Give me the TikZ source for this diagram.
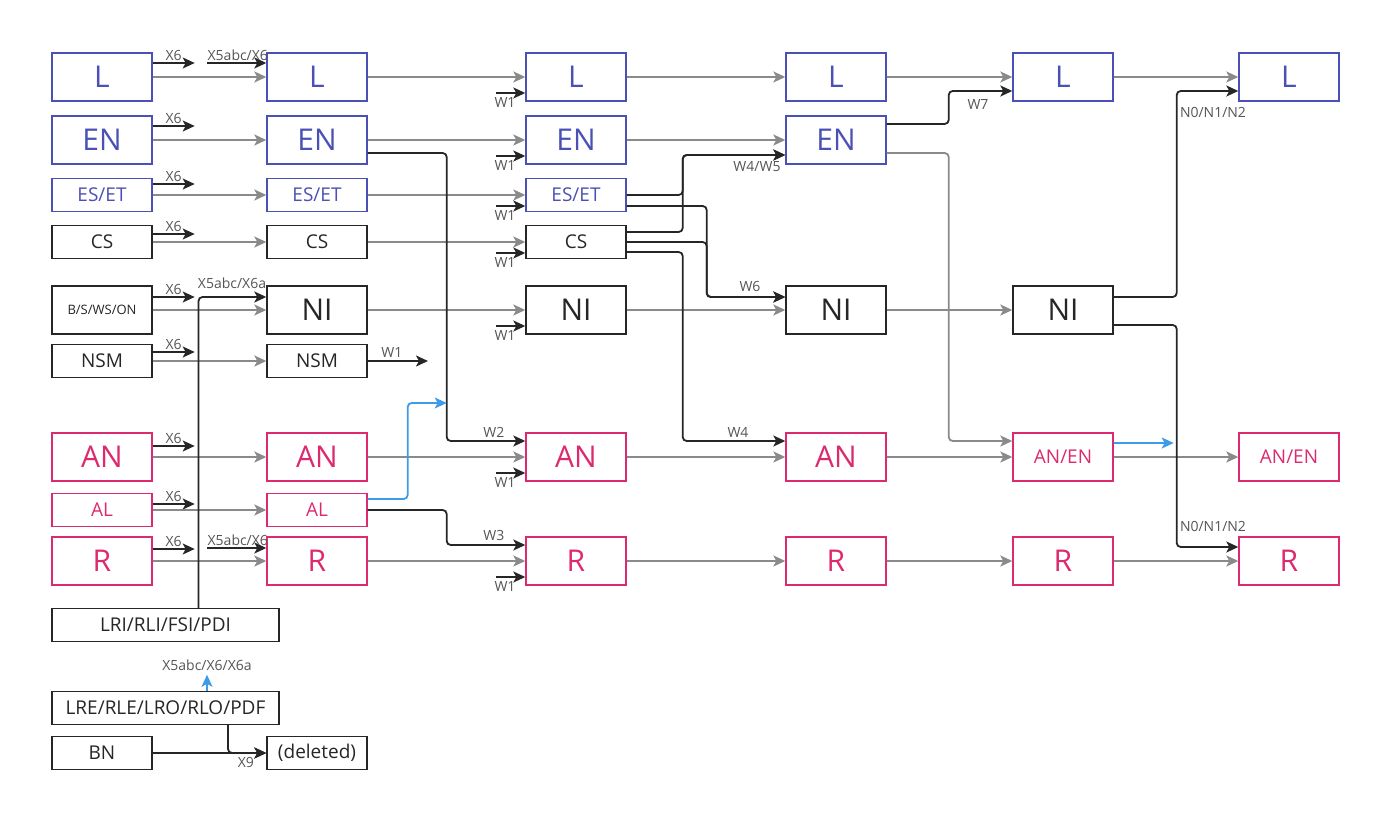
\documentclass[tikz,border=0pt]{standalone}
\usepackage{fontspec}
\setmainfont{Open Sans}
\usetikzlibrary{arrows.meta}
\definecolor{myblue}{HTML}{4A50B5}
\definecolor{mypink}{HTML}{DD2A6E}
\definecolor{mydark}{HTML}{262626}
\definecolor{mygray}{HTML}{8A8A8A}
\definecolor{labgray}{HTML}{555555}
\definecolor{skyb}{HTML}{3D9BE9}
\begin{document}
\begin{tikzpicture}[x=1pt,y=-1pt,
 box/.style={draw, line width=1.4pt, minimum width=100pt, minimum height=48pt, inner sep=0pt, font=\fontsize{30}{32}\selectfont},
 sbox/.style={box, minimum height=33pt, font=\fontsize{19}{21}\selectfont},
 bl/.style={draw=myblue,text=myblue}, pk/.style={draw=mypink,text=mypink}, bk/.style={draw=mydark,text=mydark},
 garr/.style={draw=mygray, line width=1.8pt, -{Stealth[length=12pt,width=11pt,inset=3pt]}},
 barr/.style={draw=mydark, line width=1.8pt, rounded corners=4pt, -{Stealth[length=12pt,width=11pt,inset=3pt]}},
 gline/.style={garr, rounded corners=4pt},
 blarr/.style={barr, draw=skyb},
 lab/.style={font=\fontsize{14}{15}\selectfont, text=labgray, inner sep=1pt}]
\useasboundingbox (0,0) rectangle (1400,813);
% column 0
\node[box,bl] (L0) at (102,77) {L};
\node[box,bl] (EN0) at (102,140) {EN};
\node[sbox,bl] (ES0) at (102,195) {ES/ET};
\node[sbox,bk] (CS0) at (102,242) {CS};
\node[box,bk,font=\fontsize{13}{14}\selectfont] (NI0) at (102,310) {B/S/WS/ON};
\node[sbox,bk] (NSM0) at (102,361) {NSM};
\node[box,pk] (AN0) at (102,457) {AN};
\node[sbox,pk] (AL0) at (102,510) {AL};
\node[box,pk] (R0) at (102,561) {R};
\node[sbox,bk,minimum width=227pt] (LRI) at (165.5,625) {LRI/RLI/FSI/PDI};
\node[sbox,bk,minimum width=227pt] (LRE) at (165.5,708) {LRE/RLE/LRO/RLO/PDF};
\node[sbox,bk] (BN) at (102,753) {BN};
% column 1
\node[box,bl] (L1) at (317,77) {L};
\node[box,bl] (EN1) at (317,140) {EN};
\node[sbox,bl] (ES1) at (317,195) {ES/ET};
\node[sbox,bk] (CS1) at (317,242) {CS};
\node[box,bk] (NI1) at (317,310) {NI};
\node[sbox,bk] (NSM1) at (317,361) {NSM};
\node[box,pk] (AN1) at (317,457) {AN};
\node[sbox,pk] (AL1) at (317,510) {AL};
\node[box,pk] (R1) at (317,561) {R};
\node[sbox,bk] (DEL) at (317,753) {(deleted)};
% column 2
\node[box,bl] (L2) at (576,77) {L};
\node[box,bl] (EN2) at (576,140) {EN};
\node[sbox,bl] (ES2) at (576,195) {ES/ET};
\node[sbox,bk] (CS2) at (576,242) {CS};
\node[box,bk] (NI2) at (576,310) {NI};
\node[box,pk] (AN2) at (576,457) {AN};
\node[box,pk] (R2) at (576,561) {R};
% column 3
\node[box,bl] (L3) at (836,77) {L};
\node[box,bl] (EN3) at (836,140) {EN};
\node[box,bk] (NI3) at (836,310) {NI};
\node[box,pk] (AN3) at (836,457) {AN};
\node[box,pk] (R3) at (836,561) {R};
% column 4
\node[box,bl] (L4) at (1063,77) {L};
\node[box,bk] (NI4) at (1063,310) {NI};
\node[box,pk,font=\fontsize{19}{21}\selectfont] (AE4) at (1063,457) {AN/EN};
\node[box,pk] (R4) at (1063,561) {R};
% column 5
\node[box,bl] (L5) at (1289,77) {L};
\node[box,pk,font=\fontsize{19}{21}\selectfont] (AE5) at (1289,457) {AN/EN};
\node[box,pk] (R5) at (1289,561) {R};
% gray
\foreach \r in {L,EN,ES,CS,NI,NSM,AN,AL,R} \draw[garr] (\r0) -- (\r1);
\foreach \r in {L,EN,ES,CS,NI,AN,R} \draw[garr] (\r1) -- (\r2);
\foreach \r in {L,EN,NI,AN,R} \draw[garr] (\r2) -- (\r3);
\foreach \r in {L,NI,R} \draw[garr] (\r3) -- (\r4);
\draw[garr] (AN3) -- (AE4);
\draw[garr] (L4) -- (L5);
\draw[garr] (AE4) -- (AE5);
\draw[garr] (R4) -- (R5);
% X6 stubs
\foreach \r/\s in {L0/14,EN0/14,ES0/11,CS0/8,NI0/13,NSM0/9,AN0/11,AL0/6,R0/12}
  \draw[barr] ([yshift=\s]\r.east) -- ++(42,0) node[lab,midway,above]{X6};
% X5abc/X6
\draw[barr] ([xshift=-59,yshift=14]L1.west) -- ([yshift=14]L1.west) node[lab,midway,above,xshift=1]{X5abc/X6};
\draw[barr] ([xshift=-59,yshift=13]R1.west) -- ([yshift=13]R1.west) node[lab,midway,above,xshift=1]{X5abc/X6};
\draw[barr] ([xshift=33]LRI.north) |- ([yshift=13]NI1.west);
\node[lab] (x6a) at (232,283) {X5abc/X6a};
% W1 stubs
\foreach \r in {L2,EN2,NI2,AN2,R2}
  \draw[barr] ([xshift=-29,yshift=-16]\r.west) -- ([yshift=-16]\r.west) node[lab,pos=0.3,below=3pt]{W1};
\foreach \r in {ES2,CS2}
  \draw[barr] ([xshift=-29,yshift=-11]\r.west) -- ([yshift=-11]\r.west) node[lab,pos=0.3,below=3pt]{W1};
\draw[barr] (NSM1) -- ++(111,0) node[lab,pos=0.4,above=2pt]{W1};
% W2, W3, blue AL
\draw[barr] ([yshift=-13]EN1.east) -- ++(79,0) |- ([yshift=16]AN2.west) node[lab,pos=0.8,above=2pt]{W2};
\draw[barr] (AL1.east) -- ++(79,0) |- ([yshift=16]R2.west) node[lab,pos=0.8,above=2pt]{W3};
\draw[blarr] ([yshift=11]AL1.east) -- ++(40,0) |- ++(39,-96);
% col2 -> col3 black
\draw[barr] (ES2.east) -- ++(56,0) |- ([yshift=-15]EN3.west);
\draw[barr] ([yshift=10]CS2.east) -- ++(56,0) |- ([yshift=-15]EN3.west);
\node[lab] (w45) at (757,167) {W4/W5};
\draw[barr] ([yshift=-11]ES2.east) -- ++(80,0) |- ([yshift=13]NI3.west);
\draw[barr] (CS2.east) -- ++(80,0) |- ([yshift=13]NI3.west);
\node[lab] (w6) at (750,286) {W6};
\draw[barr] ([yshift=-10]CS2.east) -- ++(56,0) |- ([yshift=16]AN3.west);
\node[lab] (w4) at (738,432) {W4};
% col3 -> col4
\draw[barr] ([yshift=16]EN3.east) -- ++(62,0) |- ([yshift=-14]L4.west);
\node[lab] (w7) at (978,105) {W7};
\draw[gline] ([yshift=-13]EN3.east) -- ++(62,0) |- ([yshift=16]AE4.west);
% col4 -> col5
\draw[barr] ([yshift=13]NI4.east) -- ++(63,0) |- ([yshift=-14]L5.west);
\node[lab] (n1) at (1213,112) {N0/N1/N2};
\draw[barr] ([yshift=-15]NI4.east) -- ++(63,0) |- ([yshift=14]R5.west);
\node[lab] (n2) at (1213,526) {N0/N1/N2};
\draw[blarr] ([yshift=14]AE4.east) -- ++(60,0);
% bottom
\draw[blarr] ([xshift=41.5]LRE.north) -- ++(0,-16) node[lab,above=2pt]{X5abc/X6/X6a};
\draw[barr] ([xshift=62.5]LRE.south) |- (DEL.west);
\draw[barr] (BN) -- (DEL) node[lab,pos=0.82,below=2pt]{X9};
\end{tikzpicture}
\end{document}
